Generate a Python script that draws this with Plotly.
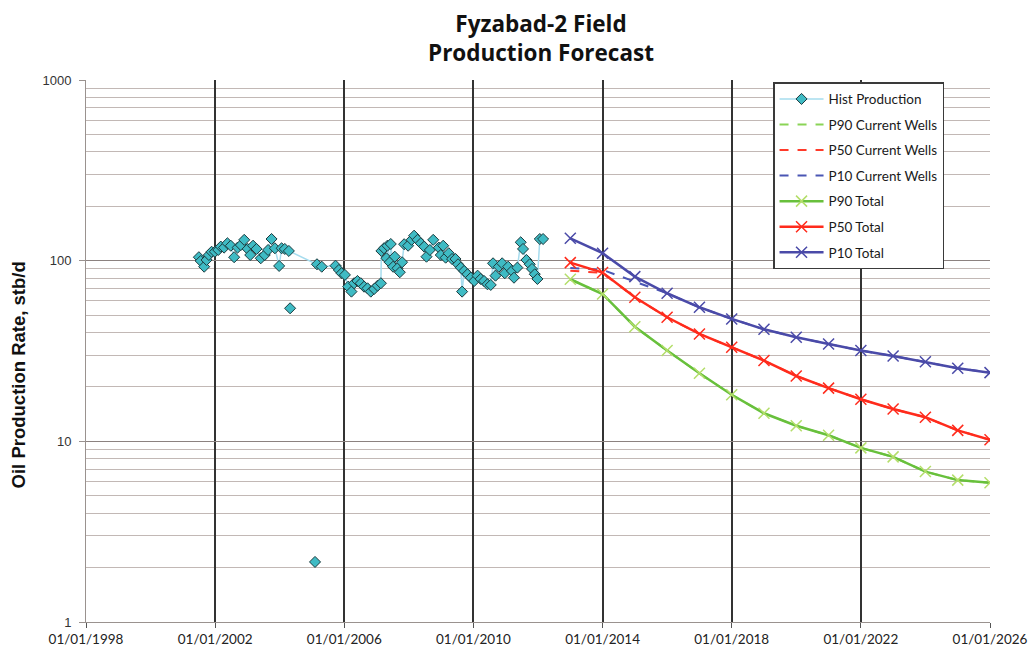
import plotly.graph_objects as go

# ---- Historical monthly oil rate (stb/d) ----
hist_dates = [
    "2001-07-01", "2001-07-22", "2001-08-30", "2001-09-26", "2001-10-22", "2001-11-22",
    "2001-12-29", "2002-02-05", "2002-03-06", "2002-04-12", "2002-05-20", "2002-06-27",
    "2002-08-04", "2002-09-12", "2002-10-19", "2002-11-26", "2003-01-04", "2003-02-02",
    "2003-03-06", "2003-04-14", "2003-06-01", "2003-07-16", "2003-08-23", "2003-10-01",
    "2003-11-08", "2003-12-26", "2004-01-23", "2004-02-28", "2004-04-14",
    "2005-02-26", "2005-04-21", "2005-09-24", "2005-11-01", "2005-12-01", "2006-01-08",
    "2006-02-14", "2006-03-23", "2006-04-22", "2006-05-30", "2006-07-07", "2006-08-13",
    "2006-09-21", "2006-10-28", "2006-12-05", "2007-01-13", "2007-02-19", "2007-02-25",
    "2007-03-26", "2007-04-23", "2007-05-04", "2007-05-30", "2007-06-11", "2007-07-07",
    "2007-07-26", "2007-08-26", "2007-09-21", "2007-10-17", "2007-11-09", "2007-12-24",
    "2008-02-02", "2008-03-01", "2008-04-09", "2008-05-16", "2008-06-23", "2008-07-19",
    "2008-08-26", "2008-10-03", "2008-12-06", "2008-12-28", "2009-01-24", "2009-02-21",
    "2009-03-28", "2009-05-04", "2009-06-12", "2009-07-11", "2009-08-11", "2009-08-26",
    "2009-09-18", "2009-10-26", "2009-12-03", "2010-01-10", "2010-02-17", "2010-03-24",
    "2010-05-01", "2010-06-09", "2010-07-16", "2010-08-11", "2010-09-08", "2010-10-15",
    "2010-11-22", "2010-12-22", "2011-01-29", "2011-03-13", "2011-04-05", "2011-05-13",
    "2011-06-20", "2011-07-16", "2011-08-24", "2011-09-30", "2011-10-26", "2011-11-26",
    "2011-12-26", "2012-01-22", "2012-02-28",
]
hist_rates = [
    104.5, 99.6, 92.6, 100.9, 107.5, 112.0,
    112.0, 114.6, 119.6, 118.1, 124.8, 121.0,
    104.5, 118.1, 122.0, 130.4, 116.1, 107.5,
    121.0, 116.1, 103.1, 107.5, 114.6, 131.8,
    117.1, 93.5, 117.1, 116.1, 113.2,
    95.5, 92.6, 93.8, 88.8, 85.2, 83.4,
    71.8, 67.4, 75.0, 77.2, 75.0, 71.8,
    70.3, 67.4, 69.7, 72.7, 75.0, 113.2,
    117.1, 103.1, 121.0, 98.0, 123.7, 92.6,
    105.2, 90.8, 86.3, 98.0, 123.3, 121.0,
    130.4, 137.5, 130.4, 124.8, 119.6, 105.2,
    114.6, 130.4, 118.1, 107.5, 121.0, 103.9,
    109.9, 102.2, 102.2, 95.5, 91.5, 67.4,
    87.7, 84.1, 80.5, 77.2, 82.6, 79.2,
    77.2, 74.0, 73.4, 96.7, 82.6, 92.6,
    96.7, 85.2, 92.6, 87.7, 80.5, 91.5,
    126.4, 116.1, 100.9, 95.5, 90.0, 84.1,
    79.2, 131.8, 131.8,
]

# Isolated low readings (plotted as markers only)
odd_dates = ["2004-04-28", "2005-02-04"]
odd_rates = [54.5, 2.15]

# ---- Forecasts (annual, stb/d) ----
fc_dates = [f"{y}-01-01" for y in range(2013, 2027)]
p90_total = [78.9, 65.4, 43.1, 31.8, 23.8, 18.1, 14.3, 12.2, 10.8, 9.2, 8.2, 6.8, 6.1, 5.9]
p50_total = [97.5, 85.9, 62.7, 48.6, 39.3, 33.2, 28.0, 23.0, 19.7, 17.1, 15.1, 13.6, 11.5, 10.2]
p10_total = [133.0, 110.0, 81.6, 66.0, 55.2, 47.6, 41.7, 37.7, 34.6, 31.8, 29.7, 27.6, 25.4, 24.0]
p90_current = [78.9, 65.4, 43.1, 31.8, 23.8, 18.1, 14.3, 12.2, 10.8, 9.2, 8.2, 6.8, 6.1, 5.9]
p50_current = [88.0, 85.5, 62.7, 48.6, 39.3, 33.2, 28.0, 23.0, 19.7, 17.1, 15.1, 13.6, 11.5, 10.2]
p10_current = [91.0, 89.0, 76.5, 66.0, 55.2, 47.6, 41.7, 37.7, 34.6, 31.8, 29.7, 27.6, 25.4, 24.0]

y_ticks = [1, 10, 100, 1000]
x_range = ["1998-01-01", "2026-01-01"]

GREEN = "#68c03c"
RED = "#ff2b1c"
BLUE = "#4a4aa8"
HIST_LINE = "#a6dcee"
HIST_FILL = "#3fbbc4"

fig = go.Figure()

fig.add_trace(go.Scatter(
    x=hist_dates, y=hist_rates, name="Hist Production", mode="lines+markers",
    line=dict(color=HIST_LINE, width=1.5),
    marker=dict(symbol="diamond", size=8.5, color=HIST_FILL,
                line=dict(color="#1c3a3e", width=1)),
    legendgroup="g0",
))
fig.add_trace(go.Scatter(
    x=odd_dates, y=odd_rates, mode="markers", showlegend=False,
    marker=dict(symbol="diamond", size=8.5, color=HIST_FILL,
                line=dict(color="#1c3a3e", width=1)),
    legendgroup="g0",
))

dashed = [
    ("P90 Current Wells", p90_current, "#8ad456"),
    ("P50 Current Wells", p50_current, "#ff3a2a"),
    ("P10 Current Wells", p10_current, "#4a56b4"),
]
for i, (name, vals, col) in enumerate(dashed):
    fig.add_trace(go.Scatter(
        x=fc_dates, y=vals, name=name, mode="lines",
        line=dict(color=col, width=2, dash="dash"),
        legendgroup=f"g{i + 1}",
    ))

solid = [
    ("P90 Total", p90_total, GREEN, "#b4de6a"),
    ("P50 Total", p50_total, RED, RED),
    ("P10 Total", p10_total, BLUE, BLUE),
]
for i, (name, vals, col, mcol) in enumerate(solid):
    fig.add_trace(go.Scatter(
        x=fc_dates, y=vals, name=name, mode="lines+markers",
        line=dict(color=col, width=2.5),
        marker=dict(symbol="x-thin", size=11, color=mcol,
                    line=dict(color=mcol, width=1.5)),
        legendgroup=f"g{i + 4}",
    ))

fig.update_layout(
    width=1033, height=655,
    margin=dict(l=86, r=43, t=80, b=33, autoexpand=False),
    paper_bgcolor="white", plot_bgcolor="white",
    showlegend=True,
    legend=dict(
        x=0.760, y=0.996, xanchor="left", yanchor="top",
        bgcolor="white", bordercolor="#3a3a3a", borderwidth=1.5,
        font=dict(family="Lato", size=13.5, color="#1a1a1a"),
        traceorder="grouped", tracegroupgap=5, itemwidth=44,
        entrywidth=134,
    ),
    annotations=[
        dict(text="<b>Fyzabad-2 Field<br>Production Forecast</b>",
             xref="paper", yref="paper", x=0.5033, y=1.077,
             xanchor="center", yanchor="middle", showarrow=False,
             font=dict(family="Open Sans", size=22.5, color="#111111")),
        dict(text="<b>Oil Production Rate, stb/d</b>",
             xref="paper", yref="paper", x=-0.0752, y=0.455,
             xanchor="center", yanchor="middle", textangle=-90, showarrow=False,
             font=dict(family="Liberation Sans", size=18.5, color="#111111")),
    ],
)

fig.update_xaxes(
    type="date", range=x_range, dtick="M48", tick0="1998-01-01",
    tickformat="%m/%d/%Y", automargin=False, ticklabeloverflow="allow",
    showgrid=True, gridcolor="#333333", gridwidth=1.5,
    showline=True, linecolor="#9a928f", linewidth=1,
    ticks="outside", ticklen=5, tickcolor="#555555",
    tickfont=dict(family="Lato", size=13.5, color="#222222"),
    zeroline=False,
)
fig.update_yaxes(
    type="log", range=[0, 3], tickmode="array", tickvals=y_ticks,
    ticktext=[str(v) for v in y_ticks], automargin=False,
    showgrid=True, gridcolor="#8c8280", gridwidth=1,
    minor=dict(dtick="D1", showgrid=True, gridcolor="#c2b8b5", gridwidth=1),
    showline=True, linecolor="#9a928f", linewidth=1,
    ticks="outside", ticklen=6, tickcolor="#9a928f", ticklabelstandoff=5,
    tickfont=dict(family="Liberation Sans", size=13, color="#333333"),
    zeroline=False,
)

fig.write_html("out.html")
